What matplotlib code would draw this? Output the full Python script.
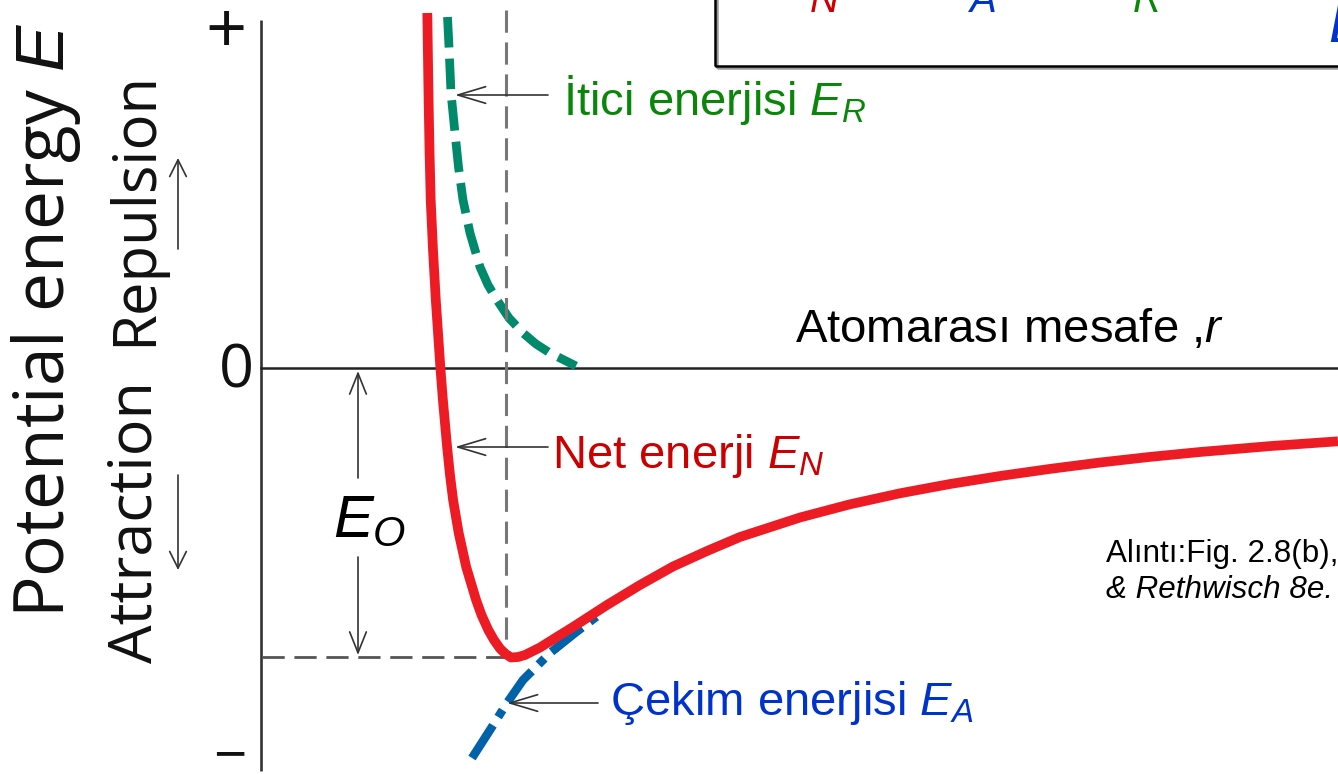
import matplotlib
matplotlib.use("Agg")
import matplotlib.pyplot as plt
from matplotlib.patches import Rectangle

plt.rcParams['font.family'] = ['Liberation Sans', 'DejaVu Sans']
plt.rcParams['mathtext.fontset'] = 'custom'
plt.rcParams['mathtext.rm'] = 'Liberation Sans'
plt.rcParams['mathtext.it'] = 'Liberation Sans:italic'
plt.rcParams['mathtext.bf'] = 'Liberation Sans:bold'
plt.rcParams['lines.scale_dashes'] = False

# ---- data (r: interatomic distance, E: energy, arbitrary units)
net_r = [1.653, 1.666, 1.675, 1.687, 1.710, 1.738, 1.784, 1.809, 1.851, 1.880, 1.911, 1.967,
         2.042, 2.141, 2.195, 2.263, 2.32, 2.38, 2.43, 2.49, 2.56, 2.63, 2.71, 2.78, 2.94,
         3.11, 3.28, 3.45, 3.78, 4.11, 4.45, 4.78, 5.38, 5.88, 6.38, 6.88, 7.38, 7.88,
         8.38, 8.88, 9.38, 10.08, 10.76]
net_E = [3.55, 2.68, 2.18, 1.68, 1.18, 0.68, 0.00, -0.32, -0.79, -1.07, -1.32, -1.65,
         -1.99, -2.32, -2.47, -2.62, -2.72, -2.805, -2.855, -2.895, -2.89, -2.87, -2.83, -2.795, -2.695,
         -2.59, -2.48, -2.37, -2.17, -1.985, -1.83, -1.69, -1.495, -1.363, -1.253, -1.16, -1.08, -1.009,
         -0.945, -0.889, -0.84, -0.781, -0.733]

rep_r = [1.855, 1.87, 1.89, 1.93, 1.965, 2.01, 2.08, 2.18, 2.26, 2.35, 2.47, 2.61, 2.74, 2.88, 3.08, 3.14]
rep_E = [3.51, 3.21, 2.75, 2.35, 2.01, 1.68, 1.35, 1.01, 0.83, 0.68, 0.50, 0.35, 0.24, 0.15, 0.05, 0.02]

att_r = [2.10, 2.28, 2.45, 2.61, 2.88, 3.13, 3.38]
att_E = [-3.90, -3.62, -3.35, -3.12, -2.85, -2.65, -2.46]

r0 = 2.44      # equilibrium spacing (vertical dashed line)
E0 = -2.89     # bond energy level (horizontal dashed line)

tick_labels = ['+', '0', '\u2212']
tick_values = [3.34, -0.03, -3.90]

labels = {
    'rep': 'İtici enerjisi $E_R$',
    'net': 'Net enerji $E_N$',
    'att': 'Çekim enerjisi $E_A$',
    'xlab': 'Atomarası mesafe ,$r$',
    'e0': '$E_O$',
}

fig = plt.figure(figsize=(13.38, 7.74), dpi=100)
ax = fig.add_axes([0, 0, 1, 1])
ax.set_xlim(-2.62, 10.76)
ax.set_ylim(-4.06, 3.68)
ax.axis('off')

# axes lines
ax.plot([-0.01, -0.01], [3.48, -4.03], color='#333333', lw=1.9, solid_capstyle='butt', zorder=1)
ax.plot([-0.01, 10.76], [0.0, 0.0], color='#222222', lw=1.8, zorder=1)

# guide dashed lines
ax.plot([r0, r0], [3.58, E0], color='#777777', lw=2.2, dashes=(16, 7), zorder=3)
ax.plot([0.0, r0 + 0.02], [E0, E0], color='#555555', lw=2.0, dashes=(16, 7), zorder=3)

# curves
ax.plot(att_r, att_E, color='#0062A8', lw=6.2, dashes=(28, 7, 6, 7), zorder=2)
ax.plot(rep_r, rep_E, color='#00896A', lw=6.3, dashes=(22, 8), zorder=2)
ax.plot(net_r, net_E, color='#ED1C24', lw=7, solid_joinstyle='round',
        solid_capstyle='butt', zorder=4)

# annotation arrows
ap = dict(arrowstyle='->,head_length=1.0,head_width=0.3', color='#333333', lw=1.2,
          mutation_scale=20, shrinkA=0, shrinkB=0)
ax.annotate('', xy=(1.93, 2.73), xytext=(2.86, 2.73), arrowprops=ap, zorder=5)
ax.annotate('', xy=(1.93, -0.79), xytext=(2.86, -0.79), arrowprops=ap, zorder=5)
ax.annotate('', xy=(2.45, -3.35), xytext=(3.36, -3.35), arrowprops=ap, zorder=5)

ap2 = dict(arrowstyle='->,head_length=0.75,head_width=0.3', color='#333333', lw=1.2,
           mutation_scale=20, shrinkA=0, shrinkB=0)
ax.annotate('', xy=(0.96, -0.03), xytext=(0.96, -1.10), arrowprops=ap2)
ax.annotate('', xy=(0.96, E0 + 0.02), xytext=(0.96, -1.89), arrowprops=ap2)
ax.text(0.71, -1.69, labels['e0'], fontsize=43, color='black', va='baseline', ha='left')

# direction arrows next to y labels
ap3 = dict(arrowstyle='->,head_length=0.6,head_width=0.3', color='#333333', lw=1.2,
           mutation_scale=20, shrinkA=0, shrinkB=0)
ax.annotate('', xy=(-0.84, 2.10), xytext=(-0.84, 1.19), arrowprops=ap3)
ax.annotate('', xy=(-0.84, -2.02), xytext=(-0.84, -1.07), arrowprops=ap3)

# y-axis side labels
yfont = ['Open Sans', 'DejaVu Sans']
ax.text(-2.16, 0.48, 'Potential energy $E$', rotation=90, fontsize=50, family=yfont,
        ha='center', va='center', color='#111111')
ax.text(-1.27, 1.60, 'Repulsion', rotation=90, fontsize=43, family=yfont,
        ha='center', va='center', color='#111111')
ax.text(-1.27, -1.54, 'Attraction', rotation=90, fontsize=44, family=yfont,
        ha='center', va='center', color='#111111')

tick_x = [-0.36, -0.26, -0.32]
tick_fs = [52, 44, 42]
for lab, val, tx, fs in zip(tick_labels, tick_values, tick_x, tick_fs):
    ax.text(tx, val, lab, fontsize=fs, family=yfont, ha='center', va='center', color='#111111')

# curve labels
ax.text(3.01, 2.53, labels['rep'], fontsize=34, color='#0A870A', va='baseline', ha='left')
ax.text(2.90, -1.00, labels['net'], fontsize=34, color='#CC0000', va='baseline', ha='left')
ax.text(3.48, -3.47, labels['att'], fontsize=34, color='#0033CC', va='baseline', ha='left')
ax.text(5.33, 0.26, labels['xlab'], fontsize=34, color='black', va='baseline', ha='left')

ax.text(8.44, -1.94, 'Alıntı:Fig. 2.8(b),', fontsize=22.6, color='black', va='baseline', ha='left')
ax.text(8.44, -2.30, '& Rethwisch 8e.', fontsize=22.6, style='italic', color='black',
        va='baseline', ha='left')

# cropped formula box at top right
ax.add_patch(Rectangle((4.55, 3.00), 7.0, 2.0, fill=False, edgecolor='#9a9a9a', lw=1.8, zorder=5))
ax.add_patch(Rectangle((4.53, 3.02), 7.0, 2.0, fill=False, edgecolor='black', lw=1.8, zorder=6))
ax.text(5.48, 3.56, 'N', fontsize=29, style='italic', color='#CC0000', va='baseline')
ax.text(7.08, 3.56, 'A', fontsize=29, style='italic', color='#0033CC', va='baseline')
ax.text(8.71, 3.56, 'R', fontsize=29, style='italic', color='#0A870A', va='baseline')
ax.text(10.66, 3.26, 'E', fontsize=42, style='italic', color='#0033CC', va='baseline')

fig.savefig('out.png', dpi=100)
